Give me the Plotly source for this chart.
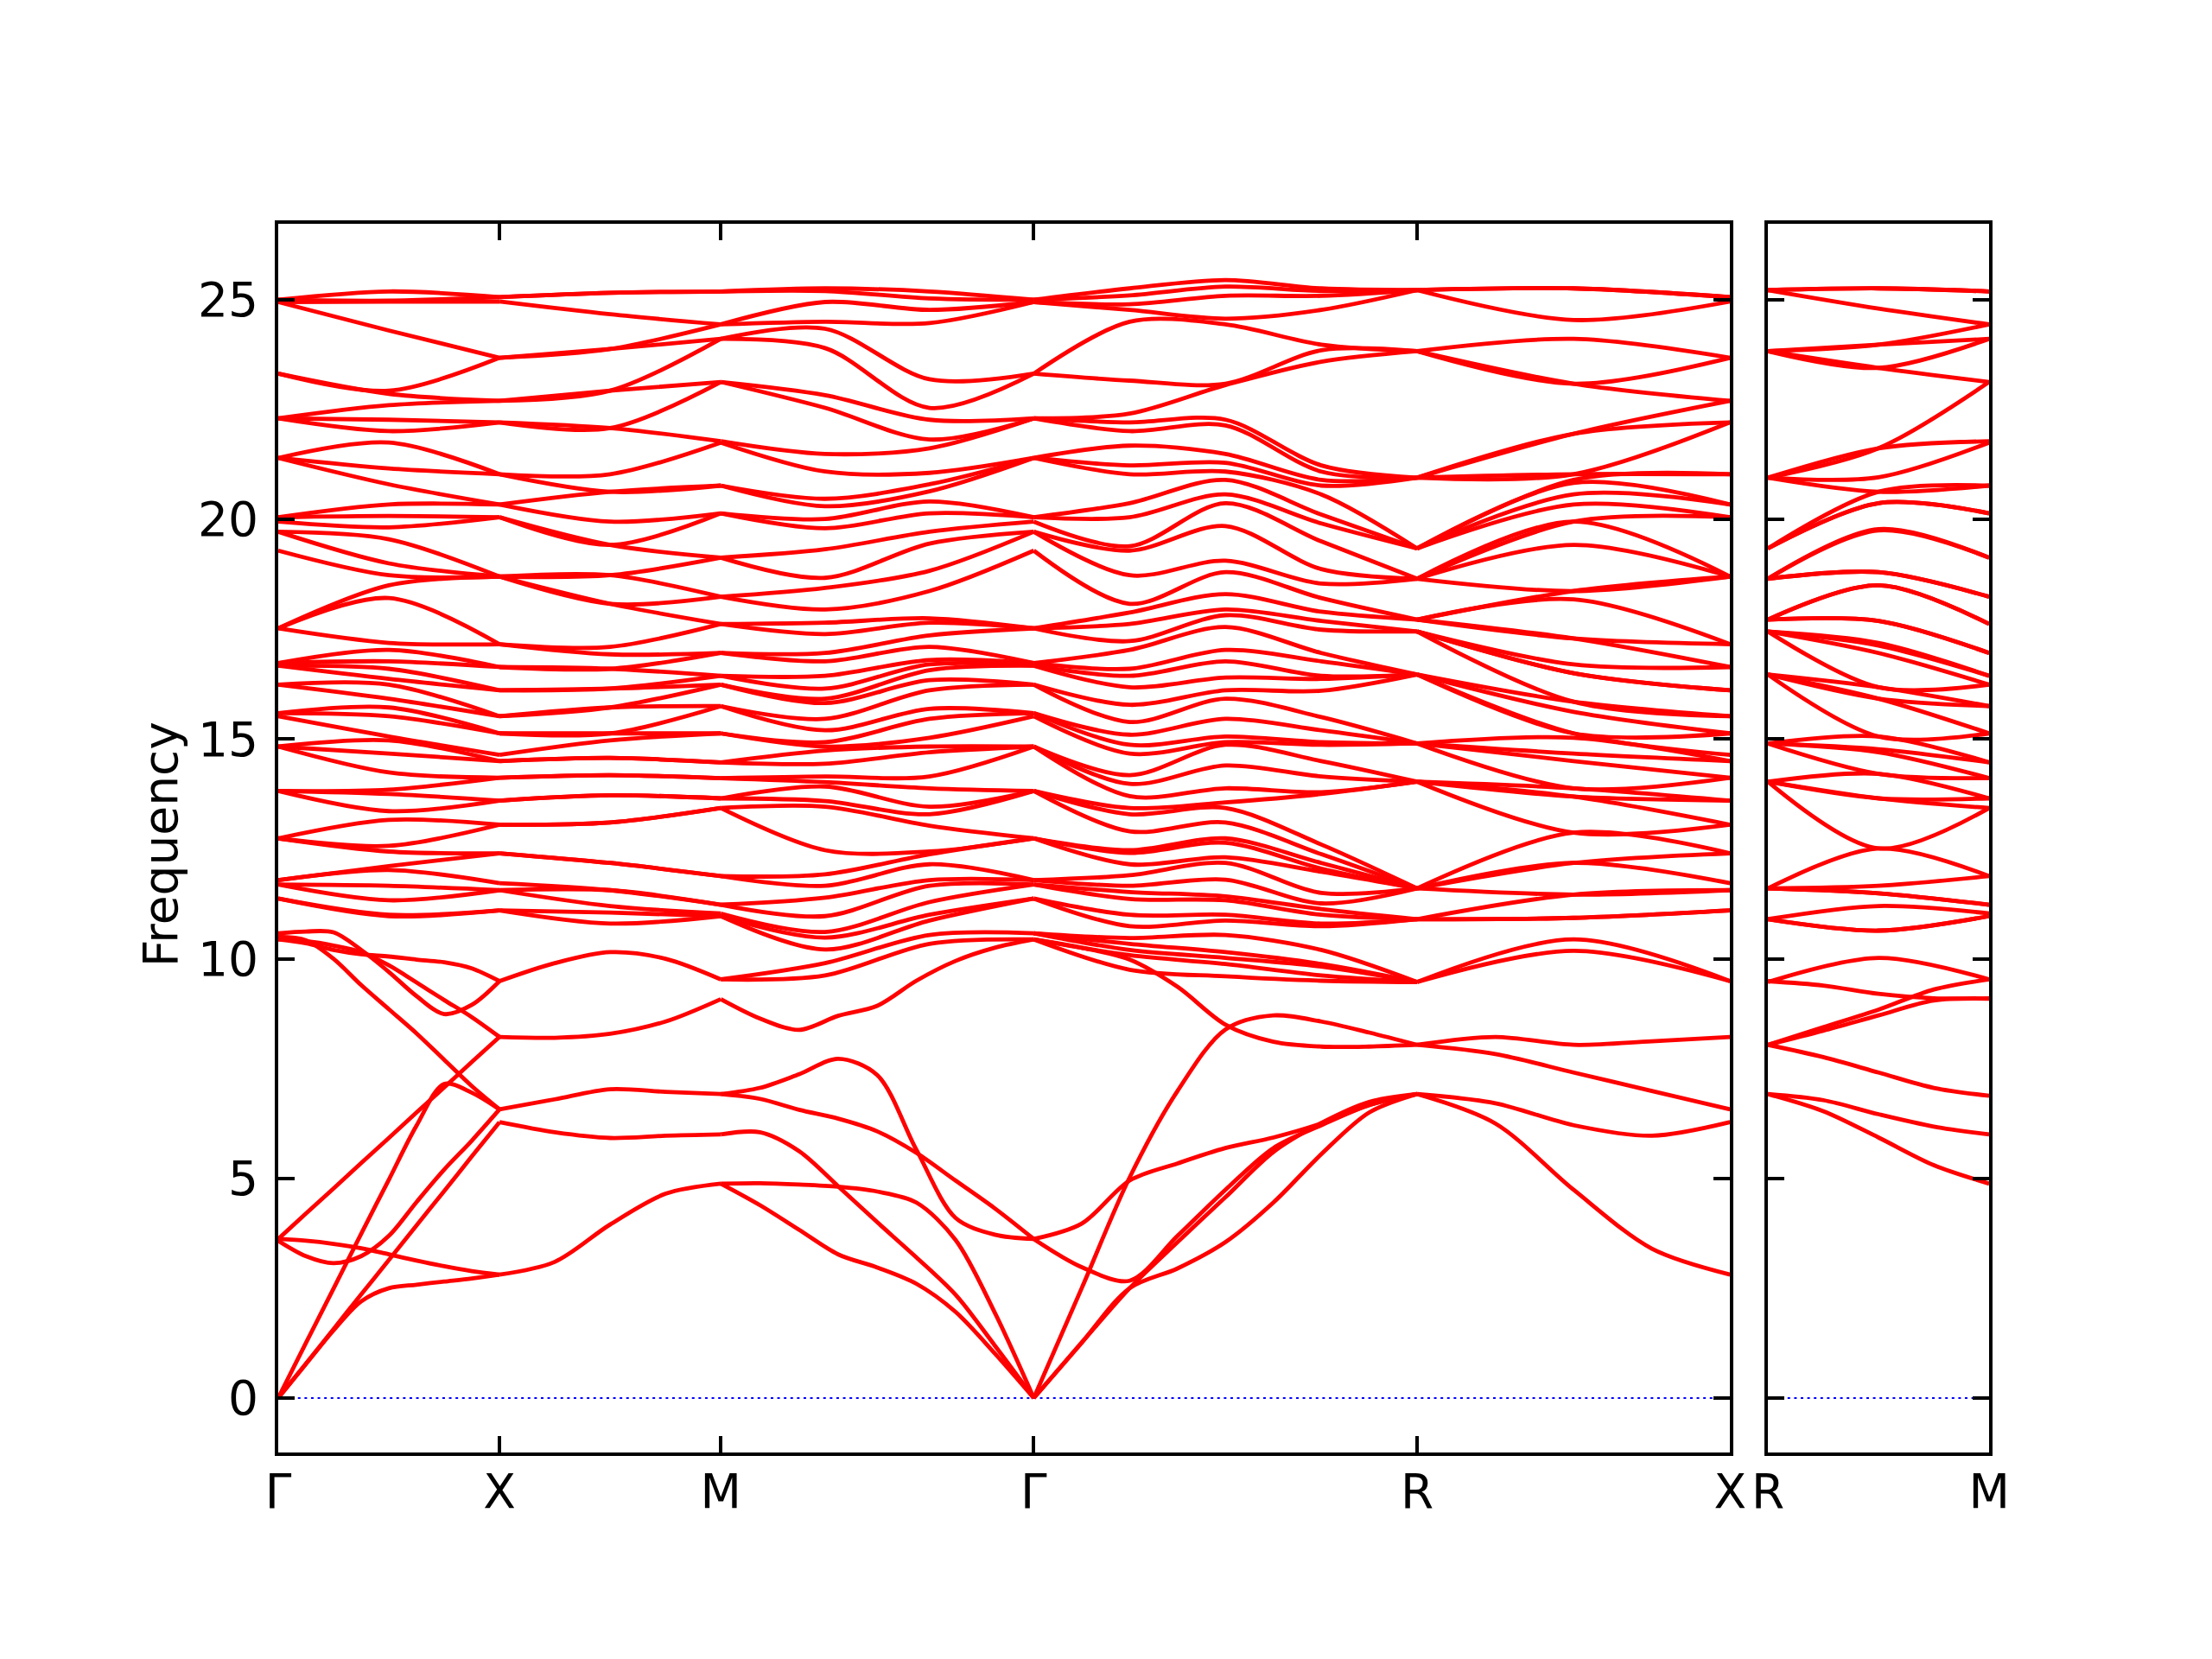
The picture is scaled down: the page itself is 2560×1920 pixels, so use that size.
import math
import plotly.graph_objects as go

# ---------------- path / labels ----------------
main_labels = ["Γ", "X", "M", "Γ", "R", "X"]
side_labels = ["R", "M"]
seg_lengths = [1.0, 1.0, math.sqrt(2.0), math.sqrt(3.0), math.sqrt(2.0)]  # Γ-X, X-M, M-Γ, Γ-R, R-X
side_length = 1.0                                                          # R-M
y_ticks = [0, 5, 10, 15, 20, 25]

# fractional sample positions along a segment
frac9 = [0, 0.125, 0.25, 0.375, 0.5, 0.625, 0.75, 0.875, 1]
frac5 = [0, 0.25, 0.5, 0.75, 1]
frac4 = [0, 1 / 3, 2 / 3, 1]
frac3 = [0, 0.5, 1]

# ---------------- low-lying branches (read individually) ----------------
GX_low = [
    [0, 0.77, 1.54, 2.2, 2.5, 2.58, 2.65, 2.72, 2.81],
    [0, 0.78, 1.57, 2.36, 3.14, 3.93, 4.71, 5.5, 6.28],
    [0, 1.25, 2.49, 3.74, 4.97, 6.2, 7.15, 6.95, 6.57],
    [3.62, 4.2, 4.77, 5.35, 5.92, 6.5, 7.07, 7.65, 8.22],
    [3.58, 3.23, 3.07, 3.23, 3.69, 4.46, 5.2, 5.86, 6.57],
    [3.62, 3.58, 3.51, 3.41, 3.27, 3.13, 3.0, 2.89, 2.81],
    [10.5, 10.42, 10.0, 9.4, 8.85, 8.3, 7.7, 7.1, 6.57],
    [10.44, 10.4, 10.3, 10.15, 9.85, 9.46, 9.06, 8.67, 8.22],
    [10.58, 10.62, 10.6, 10.2, 9.7, 9.15, 8.74, 8.95, 9.49],
    [10.44, 10.35, 10.2, 10.1, 10.05, 9.98, 9.92, 9.78, 9.49],
]
XM_low = [
    [2.81, 3.1, 3.95, 4.65, 4.88],
    [6.28, 6.05, 5.92, 5.97, 6.0],
    [6.57, 6.8, 7.03, 6.97, 6.92],
    [8.22, 8.2, 8.29, 8.57, 9.08],
    [9.49, 9.9, 10.15, 10.0, 9.53],
]
MG_low = [
    [4.88, 4.89, 4.86, 4.81, 4.7, 4.45, 3.6, 1.95, 0],
    [4.88, 4.39, 3.83, 3.27, 2.97, 2.6, 1.96, 1.02, 0],
    [6.0, 6.05, 5.62, 4.82, 4.0, 3.2, 2.35, 1.2, 0],
    [6.92, 7.06, 7.37, 7.72, 7.35, 5.65, 4.1, 3.72, 3.62],
    [6.92, 6.81, 6.56, 6.36, 6.07, 5.58, 4.95, 4.32, 3.62],
    [9.08, 8.64, 8.38, 8.7, 8.93, 9.5, 9.95, 10.25, 10.44],
]
GR_low = [
    [0, 1.26, 2.5, 3.55, 4.57, 5.6, 6.26, 6.74, 6.92],
    [0, 1.26, 2.5, 2.95, 3.55, 4.45, 5.55, 6.5, 6.92],
    [3.62, 2.98, 2.67, 3.69, 4.74, 5.69, 6.21, 6.67, 6.92],
    [0, 2.5, 5.02, 6.99, 8.39, 8.71, 8.57, 8.32, 8.04],
    [3.62, 3.97, 4.95, 5.34, 5.69, 5.93, 6.25, 6.67, 6.92],
    [10.44, 10.25, 9.98, 9.36, 8.5, 8.11, 8.0, 8.0, 8.04],
]
RX_low = [
    [8.04, 7.83, 7.41, 6.99, 6.57],
    [8.04, 8.22, 8.04, 8.12, 8.22],
    [6.92, 6.71, 6.21, 5.97, 6.28],
    [6.92, 6.25, 4.74, 3.4, 2.81],
]
RM_low = [
    [8.04, 8.36, 8.71, 9.05, 9.09],
    [8.04, 7.76, 7.41, 7.06, 6.88],
    [6.92, 6.78, 6.46, 6.18, 6.0],
    [6.92, 6.53, 5.93, 5.3, 4.88],
    [8.04, 8.44, 8.84, 9.3, 9.53],
    [9.49, 9.39, 9.2, 9.1, 9.1],
]

# ---------------- dense upper manifold: frequencies read column by column ----------------
up_G = [11.37, 11.37, 11.69, 11.69, 11.79, 11.79, 12.74, 12.74, 12.74, 13.82, 13.82, 13.82,
        14.83, 14.83, 14.83, 15.52, 15.59, 15.59, 16.24, 16.24, 16.67, 16.67, 16.73, 16.73,
        17.52, 17.52, 17.52, 19.29, 19.72, 19.72, 19.95, 20.05, 20.05, 21.4, 21.4, 21.4,
        22.3, 22.3, 22.3, 23.32, 23.32, 24.95, 24.95, 25.0, 25.0]
up_GX_mid = [10.97, 11.0, 11.33, 11.66, 12.02, 12.11, 12.44, 12.57, 13.16, 13.36, 13.75, 13.85,
             14.24, 14.67, 14.97, 15.06, 15.52, 15.72, 15.92, 16.24, 16.37, 16.6, 16.77, 17.03,
             17.19, 18.21, 18.5, 18.73, 19.0, 19.55, 19.82, 20.08, 20.34, 20.8, 21.16, 21.75,
             22.01, 22.27, 22.6, 22.86, 22.93, 24.3, 24.96, 24.98, 25.19]
up_X = [11.1, 11.1, 11.56, 11.56, 11.72, 12.4, 12.4, 13.05, 13.05, 13.6, 13.6, 14.12, 14.12,
        14.5, 14.5, 14.64, 15.13, 15.13, 15.52, 15.52, 16.11, 16.11, 16.64, 16.64, 17.16, 17.16,
        18.7, 18.7, 18.7, 18.7, 20.05, 20.05, 20.34, 20.34, 21.03, 21.03, 22.21, 22.21,
        22.7, 22.7, 23.68, 23.68, 24.96, 25.06, 25.06]
up_XM_mid = [10.8, 11.05, 11.2, 11.56, 11.56, 12.18, 12.18, 13.1, 13.1, 13.72, 13.72, 14.18, 14.18,
             14.57, 14.57, 14.97, 15.13, 15.13, 15.72, 15.72, 16.15, 16.15, 16.6, 16.6, 16.93, 17.1,
             18.08, 18.08, 18.73, 18.73, 19.42, 19.42, 19.95, 20.63, 20.63, 21.03, 22.08, 22.08,
             22.93, 22.93, 23.88, 23.88, 24.67, 25.16, 25.16]
up_M = [10.97, 10.97, 11.03, 11.23, 11.23, 11.88, 11.88, 13.43, 13.43, 13.65, 13.65, 14.11, 14.11,
        14.47, 14.47, 15.13, 15.13, 15.75, 15.75, 16.24, 16.24, 16.44, 16.44, 16.96, 16.96,
        17.62, 17.62, 18.24, 18.24, 19.13, 19.13, 20.14, 20.14, 20.77, 20.77, 21.75, 21.78,
        23.13, 23.13, 24.11, 24.11, 24.44, 24.44, 25.19, 25.19]
up_MG_13 = [9.62, 9.9, 10.21, 10.48, 10.61, 10.97, 11.39, 11.66, 11.92, 12.47,
            13.46, 13.59, 13.92, 14.02, 14.15, 14.44, 14.74, 14.83, 14.93, 15.2,
            15.46, 15.82, 15.92, 16.15, 16.44, 16.77, 16.96, 17.39, 17.65, 17.95,
            18.44, 18.67, 19.32, 19.8, 20.01, 20.3, 20.47, 21.09, 21.49, 22.54,
            22.83, 23.9, 24.34, 24.5, 24.95, 25.2, 25.26]
up_MG_23 = [10.34, 10.54, 10.87, 11.0, 11.29, 11.66, 11.79, 12.15, 12.38, 12.44,
            13.03, 13.29, 13.46, 13.88, 14.15, 14.7, 14.83, 15.03, 15.46, 15.69,
            16.11, 16.34, 16.57, 16.7, 16.8, 17.1, 17.36, 17.65, 17.75, 18.37,
            18.83, 19.45, 19.72, 20.14, 20.41, 20.64, 20.8, 21.06, 21.62, 21.82,
            22.27, 22.54, 23.19, 24.47, 24.77, 25.03, 25.19]
up_GR_25 = [9.75, 10.08, 10.2, 10.34, 10.47, 10.74, 11.0, 11.36, 11.52, 11.66,
            11.9, 12.15, 12.41, 12.47, 12.9, 13.29, 13.43, 13.7, 13.98, 14.18,
            14.67, 14.87, 15.1, 15.39, 15.78, 16.18, 16.44, 16.6, 17.03, 17.23,
            17.62, 17.88, 18.08, 18.73, 19.29, 19.39, 20.05, 20.37, 21.03, 21.23,
            21.68, 22.01, 22.21, 22.41, 23.16, 24.5, 24.77, 24.9, 25.1, 25.26]
up_GR_50 = [9.6, 9.88, 10.02, 10.15, 10.54, 10.87, 11.0, 11.33, 11.42, 11.8,
            12.18, 12.31, 12.64, 12.74, 13.1, 13.43, 13.56, 13.88, 14.4, 14.87,
            14.93, 15.06, 15.46, 15.92, 16.11, 16.4, 16.77, 17.03, 17.55, 17.82,
            17.95, 18.3, 18.8, 19.06, 19.85, 20.37, 20.57, 20.9, 21.09, 21.29,
            21.49, 22.14, 22.27, 23.06, 23.09, 24.44, 24.57, 25.09, 25.3, 25.45]
up_GR_75 = [9.5, 9.62, 9.82, 9.88, 10.2, 10.74, 10.8, 11.0, 11.13, 11.26,
            11.5, 11.98, 12.05, 12.18, 12.38, 12.6, 13.75, 13.79, 14.15, 14.5,
            14.87, 14.93, 15.2, 15.5, 16.1, 16.37, 16.44, 16.77, 16.96, 17.49,
            17.69, 17.9, 18.21, 18.54, 18.87, 19.5, 19.91, 20.11, 20.57, 20.77,
            20.9, 21.09, 21.23, 23.59, 23.85, 23.98, 24.77, 25.09, 25.2, 25.26]
up_R_GR = [9.47, 9.47, 9.47, 9.47, 9.47, 10.9, 10.9, 10.9, 10.9,
           11.6, 11.6, 11.6, 11.6, 11.6, 11.6, 11.6, 14.03, 14.03, 14.03, 14.03,
           14.9, 14.9, 14.9, 14.9, 16.47, 16.47, 16.47, 16.47, 16.47, 17.45, 17.45,
           17.72, 17.72, 18.65, 18.65, 18.65, 19.34, 19.34, 19.34,
           20.95, 20.95, 20.95, 20.95, 23.83, 23.83, 23.83, 25.22, 25.22, 25.22, 25.22]
up_R_RX = [9.47, 9.47, 10.9, 10.9, 10.9, 11.6, 11.6, 11.6, 11.6,
           14.03, 14.03, 14.03, 14.03, 14.9, 14.9, 14.9, 14.9, 16.47, 16.47, 16.47, 16.47,
           17.45, 17.45, 17.45, 17.45, 17.72, 17.72, 17.72, 17.72, 18.65, 18.65, 18.65, 18.65,
           19.34, 19.34, 19.34, 19.34, 20.95, 20.95, 20.95, 20.95,
           23.83, 23.83, 23.83, 25.22, 25.22, 25.22]
up_RX_mid = [10.18, 10.44, 10.93, 10.93, 11.46, 11.46, 12.18, 12.18, 12.87, 12.87,
             13.69, 13.69, 13.88, 13.88, 14.5, 14.67, 15.03, 15.13, 15.13, 15.62,
             15.85, 15.85, 16.5, 16.5, 16.7, 17.29, 17.29, 18.18, 18.37, 18.37,
             19.42, 19.95, 19.95, 20.34, 20.57, 20.83, 20.9, 21.03, 21.03, 21.95,
             21.95, 23.09, 23.09, 24.11, 24.54, 25.26, 25.26]
up_R_RM = [9.47, 10.9, 10.9, 10.9, 11.6, 11.6, 11.6, 11.6,
           14.03, 14.03, 14.03, 14.03, 14.9, 14.9, 14.9, 14.9, 16.47, 16.47, 16.47, 16.47,
           17.45, 17.45, 17.45, 17.45, 17.72, 17.72, 17.72, 17.72, 18.65, 18.65, 18.65, 18.65,
           19.34, 19.34, 19.34, 20.95, 20.95, 20.95, 20.95,
           23.83, 23.83, 23.83, 23.83, 25.22, 25.22, 25.22]
up_RM_mid = [10.02, 10.64, 10.64, 11.2, 11.49, 11.49, 11.66, 12.51, 12.51, 13.65,
             13.65, 14.21, 14.21, 14.7, 14.77, 15.06, 15.06, 15.92, 15.92, 16.18,
             16.18, 16.96, 17.13, 17.19, 17.69, 17.69, 18.5, 18.5, 18.8, 18.8,
             19.75, 19.78, 20.37, 20.37, 20.63, 20.63, 20.96, 21.62, 21.62, 23.45,
             23.45, 23.98, 23.98, 24.8, 25.26, 25.26]
# extra branches entering the upper manifold at the segment ends
extra_M_MG = [9.53, 9.53]
extra_G_MG = [10.44, 10.58]
extra_G_GR = [10.44, 10.44, 10.58, 10.58, 10.58]
extra_X_RX = [9.49, 9.49]
extra_M_RM = [9.53]

# ---------------- build geometry ----------------
starts = [0.0]
for L in seg_lengths:
    starts.append(starts[-1] + L)
total_len = starts[-1]

main_segments = [
    (GX_low, frac9, frac3, [up_G, up_GX_mid, up_X]),
    (XM_low, frac5, frac3, [up_X, up_XM_mid, up_M]),
    (MG_low, frac9, frac4, [extra_M_MG + up_M, up_MG_13, up_MG_23, extra_G_MG + up_G]),
    (GR_low, frac9, frac5, [extra_G_GR + up_G, up_GR_25, up_GR_50, up_GR_75, up_R_GR]),
    (RX_low, frac5, frac3, [up_R_RX, up_RX_mid, extra_X_RX + up_X]),
]
side_segment = (RM_low, frac5, frac3, [up_R_RM, up_RM_mid, extra_M_RM + up_M])


def add_rows(xs, ys, x0, L, fracs, rows):
    for row in rows:
        for f, v in zip(fracs, row):
            xs.append(x0 + f * L)
            ys.append(v)
        xs.append(None)
        ys.append(None)


def add_columns(xs, ys, x0, L, fracs, cols):
    cols = [sorted(c) for c in cols]
    n = min(len(c) for c in cols)
    for i in range(n):
        for f, c in zip(fracs, cols):
            xs.append(x0 + f * L)
            ys.append(c[i])
        xs.append(None)
        ys.append(None)


mx, my = [], []
for k, (low, lf, uf, cols) in enumerate(main_segments):
    add_rows(mx, my, starts[k], seg_lengths[k], lf, low)
    add_columns(mx, my, starts[k], seg_lengths[k], uf, cols)

sx, sy = [], []
low, lf, uf, cols = side_segment
add_rows(sx, sy, 0.0, side_length, lf, low)
add_columns(sx, sy, 0.0, side_length, uf, cols)

RED = "#ff0000"
LW = 4.8
DOT = dict(color="blue", width=2, dash="3px,4.6px")
fig = go.Figure()
fig.add_trace(go.Scatter(x=[0, total_len], y=[0, 0], mode="lines", xaxis="x", yaxis="y",
                         line=DOT, hoverinfo="skip"))
fig.add_trace(go.Scatter(x=[0, side_length], y=[0, 0], mode="lines", xaxis="x2", yaxis="y2",
                         line=DOT, hoverinfo="skip"))
fig.add_trace(go.Scatter(x=mx, y=my, mode="lines", xaxis="x", yaxis="y", connectgaps=False,
                         line=dict(color=RED, width=LW, shape="spline", smoothing=0.9)))
fig.add_trace(go.Scatter(x=sx, y=sy, mode="lines", xaxis="x2", yaxis="y2", connectgaps=False,
                         line=dict(color=RED, width=LW, shape="spline", smoothing=0.9)))

W, H = 2560, 1920
# pixel placement of the two frames (layout px)
ax_left, ax_right, side_left, side_right = 300, 2009, 2053.5, 2314
ax_top, ax_bottom = 251, 1673
ydom = [1 - ax_bottom / H, 1 - ax_top / H]
yrange = [-1.24, 26.73]
FONT = dict(family="DejaVu Sans", size=55, color="black")

common = dict(showline=True, linecolor="black", linewidth=4, mirror="ticks",
              ticks="inside", ticklen=19, tickwidth=4, tickcolor="black",
              showgrid=False, zeroline=False, tickfont=FONT)

fig.update_layout(
    width=W, height=H, autosize=False,
    margin=dict(l=0, r=0, t=0, b=0),
    paper_bgcolor="white", plot_bgcolor="white",
    showlegend=False,
    xaxis=dict(domain=[ax_left / W, ax_right / W], range=[0, total_len],
               tickmode="array", tickvals=starts, ticktext=main_labels,
               ticklabelstandoff=-6, anchor="y", **common),
    yaxis=dict(domain=ydom, range=yrange, tickmode="array", tickvals=y_ticks,
               ticktext=[str(v) for v in y_ticks], ticklabelstandoff=8, anchor="x", **common),
    xaxis2=dict(domain=[side_left / W, side_right / W], range=[0, side_length],
                tickmode="array", tickvals=[0, side_length], ticktext=side_labels,
                ticklabelstandoff=-6, anchor="y2", **common),
    yaxis2=dict(domain=ydom, range=yrange, tickmode="array", tickvals=y_ticks,
                showticklabels=False, anchor="x2", **common),
    annotations=[dict(text="Frequency", x=162 / W, y=1 - 969 / H, xref="paper", yref="paper",
                      showarrow=False, textangle=-90, font=FONT,
                      xanchor="center", yanchor="middle")],
)

fig.write_html("out.html")
